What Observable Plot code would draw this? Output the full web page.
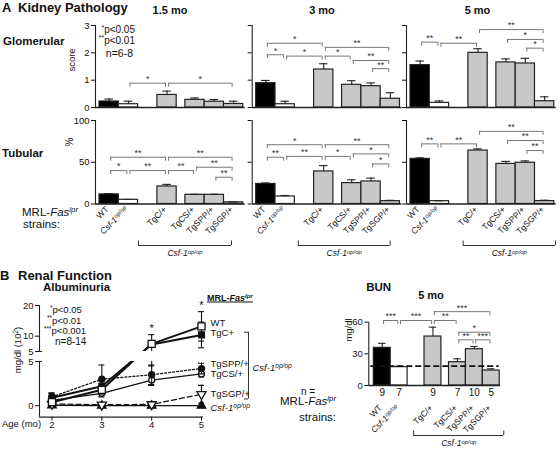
<!DOCTYPE html>
<html><head><meta charset="utf-8">
<script src="https://cdn.jsdelivr.net/npm/d3@7"></script>
<script src="https://cdn.jsdelivr.net/npm/@observablehq/plot@0.6"></script>
<style>
body{margin:0;background:#fff}
#fig{position:relative;width:560px;height:449px;overflow:hidden;font-family:"Liberation Sans",Arial,Helvetica,sans-serif;color:#111;background:#fff}
#fig svg{position:absolute;left:0;top:0}
.t{position:absolute;white-space:nowrap;line-height:1}
.t sup{font-size:68%;vertical-align:baseline;position:relative;top:-0.5em}
</style></head><body><div id="fig"></div>
<script>
// ---------------- DATA ----------------
const strains = ["WT", "Csf-1^op/op", "TgC/+", "TgCS/+", "TgSPP/+", "TgSGP/+"];

// Glomerular score (0-3)
const glom15 = [0.22, 0.12, 0.46, 0.28, 0.21, 0.13];
const glom15Err = [0.09, 0.11, 0.14, 0.07, 0.08, 0.10];
const glom3 = [0.89, 0.12, 1.39, 0.83, 0.78, 0.32];
const glom3Err = [0.10, 0.11, 0.21, 0.15, 0.12, 0.22];
const glom5 = [1.55, 0.17, 2.00, 1.65, 1.61, 0.23];
const glom5Err = [0.15, 0.07, 0.15, 0.13, 0.19, 0.16];

// Tubular (%)
const tub15 = [11.5, 5, 21, 11, 11, 2];
const tub15Err = [1, 0.5, 2.5, 0.6, 0.6, 0.5];
const tub3 = [24, 9, 39, 25, 27, 3.4];
const tub3Err = [1.2, 1.2, 7, 4, 4, 1];
const tub5 = [54, 3.4, 64, 48, 49.4, 3.5];
const tub5Err = [1.3, 0.5, 2, 3, 2.2, 1];

// significance brackets: [fromIndex, toIndex, label, level]
const sigGlom15 = [[1, 2, "*", 0.89], [2, 5, "*", 0.89]];
const sigGlom3 = [[0, 2, "*", 2.35], [2, 5, "**", 2.2], [0, 1, "*", 1.93], [1, 2, "*", 1.88], [2, 3, "*", 1.88], [3, 5, "**", 1.72], [4, 5, "**", 1.42]];
const sigGlom5 = [[0, 1, "**", 2.39], [1, 2, "**", 2.35], [2, 5, "**", 2.85], [3, 5, "*", 2.49], [4, 5, "*", 2.17]];
const sigTub15 = [[0, 2, "**", 56], [2, 5, "**", 56], [0, 1, "*", 40], [1, 2, "**", 40], [2, 3, "**", 40], [3, 5, "**", 44], [4, 5, "**", 32]];
const sigTub3 = [[0, 2, "*", 71], [2, 5, "**", 71], [0, 1, "**", 56], [1, 2, "**", 57], [2, 3, "*", 57], [3, 5, "*", 60], [4, 5, "*", 48]];
const sigTub5 = [[0, 1, "**", 72], [1, 2, "**", 72], [2, 5, "**", 87], [3, 5, "**", 76], [4, 5, "**", 64]];

// Albuminuria (mg/dl x10^2)
const ages = [2, 3, 4, 5];
const albWT = [0.4, 1.8, 7.5, 13.2];
const albWTErr = [0.3, 0.5, 3.0, 4.8];
const albTgC = [0.9, 2.2, 7.3, 10.4];
const albTgCErr = [0.5, 0.6, 0.8, 4.2];
const albTgSPP = [1.0, 3.0, 3.5, 4.2];
const albTgSPPErr = [0.45, 1.6, 1.1, 0.6];
const albTgCS = [0.6, 1.4, 2.9, 3.6];
const albTgCSErr = [0.4, 0.4, 0.6, 0.35];
const albTgSGP = [0.2, 0.1, 0.15, 1.3];
const albTgSGPErr = [0.2, 0.1, 0.1, 1.0];
const albCsf = [0.05, 0.0, 0.0, 0.0];
const albCsfErr = [0.05, 0, 0, 0];
const albStars = [[4, "*"], [5, "*"]];

// BUN (mg/dl) at 5 mo
const bun = [35.7, 17.4, 46.4, 22.1, 34.4, 14.2];
const bunErr = [4.3, 0.9, 8.9, 3.2, 2.6, 1.6];
const bunN = [9, 7, 9, 7, 10, 5];
const bunRef = 18.3;
const sigBun = [[0, 1, "***", 61.6], [1, 2, "***", 61.6], [2, 3, "**", 61.6], [2, 5, "***", 70], [3, 5, "*", 50.5], [3, 4, "**", 43.3], [4, 5, "***", 43.3]];

// ---------------- LAYOUT / STYLE ----------------
const W = 560, H = 449;
const FONT = '"Liberation Sans", Arial, Helvetica, sans-serif';
const fig = document.getElementById("fig");
const barFill = ["#000000", "#ffffff", "#c8c8c8", "#c8c8c8", "#c8c8c8", "#c8c8c8"];
const groupGap = [0, 0, 1, 0.45, 0, 0];
const slot = [];
groupGap.reduce((s, g, i) => { const v = i === 0 ? 0 : s + 1 + g; slot.push(v); return v; }, 0);

const NS = "http://www.w3.org/2000/svg";
function supify(svg) {
  svg.querySelectorAll("text").forEach(t => {
    if (t.querySelector("tspan")) return;
    const s = t.textContent;
    if (!s.includes("^")) return;
    const [base, sup] = s.split("^");
    t.textContent = "";
    const a = document.createElementNS(NS, "tspan");
    a.textContent = base; a.setAttribute("font-style", "italic");
    const b = document.createElementNS(NS, "tspan");
    b.textContent = sup; b.setAttribute("font-style", "italic");
    b.setAttribute("font-size", "70%"); b.setAttribute("dy", "-0.45em");
    t.append(a, b);
  });
  return svg;
}

function barPanel(o) {
  const k = o.ymax / (o.bottom - o.top);
  const right = o.left + (o.xmax - o.xmin) * o.unit;
  const rows = strains.map((s, i) => ({s, x: slot[i], v: o.vals[i], e: o.errs[i], fill: barFill[i], n: o.n ? String(o.n[i]) : ""}));
  const br = o.sigs.map(([a, b, lab, h]) => ({x1: slot[a] + 0.08, x2: slot[b] - 0.08, h, lab}));
  const ends = br.flatMap(d => [{x: d.x1, h: d.h}, {x: d.x2, h: d.h}]);
  const marks = [
    Plot.rectY(rows, {x1: d => d.x - 0.5, x2: d => d.x + 0.5, y1: 0, y2: "v", fill: "fill", stroke: "#222", strokeWidth: 1.2}),
    Plot.ruleX(rows, {x: "x", y1: "v", y2: d => d.v + d.e, stroke: "#222", strokeWidth: 1.1}),
    Plot.ruleY(rows, {x1: d => d.x - 0.22, x2: d => d.x + 0.22, y: d => d.v + d.e, stroke: "#222", strokeWidth: 1.1})
  ];
  if (o.ref != null) marks.push(Plot.ruleY([o.ref], {x1: -0.68, x2: 6.92, stroke: "#111", strokeWidth: 1.8, strokeDasharray: "6,3"}));
  marks.push(
    Plot.ruleX([o.xmin], {y1: 0, y2: o.ymax, stroke: "#222", strokeWidth: 1.1}),
    Plot.ruleY([0], {x1: o.xmin, x2: o.xmax, stroke: "#222", strokeWidth: 1.3}),
    Plot.axisY({ticks: o.ticks, tickSize: 4, tickPadding: 2, tickFormat: o.tickLabels ? (d => String(d)) : (() => ""), label: null}),
    Plot.ruleY(br, {x1: "x1", x2: "x2", y: "h", stroke: "#777", strokeWidth: 1}),
    Plot.ruleX(ends, {x: "x", y1: "h", y2: d => d.h - 4 * k, stroke: "#777", strokeWidth: 1}),
    Plot.text(br, {x: d => (d.x1 + d.x2) / 2, y: "h", text: "lab", dy: -4, fill: "#333", fontSize: 9})
  );
  if (o.labelDy != null) marks.push(Plot.text(rows, {x: d => d.x - 0.1, y: 0, text: "s", rotate: -45, textAnchor: "end", dy: o.labelDy, fontSize: 8.5}));
  if (o.n) marks.push(Plot.text(rows, {x: "x", y: 0, dy: 7, text: "n", fontSize: 10}));
  if (o.brace) {
    const [a, b] = o.brace, yb = -o.braceDy * k, yt = yb + 4.5 * k;
    marks.push(
      Plot.ruleY([yb], {x1: a, x2: b, stroke: "#333"}),
      Plot.ruleX([a, b], {x: d => d, y1: yb, y2: yt, stroke: "#333"}),
      Plot.text(["Csf-1^op/op"], {x: (a + b) / 2, y: yb, dy: 8, fontSize: 8.5, text: d => d})
    );
  }
  const svg = Plot.plot({
    width: W, height: H,
    marginLeft: o.left, marginRight: W - right, marginTop: o.top, marginBottom: H - o.bottom,
    x: {type: "linear", domain: [o.xmin, o.xmax], axis: null},
    y: {type: "linear", domain: [0, o.ymax], label: null},
    color: {type: "identity"},
    style: {fontFamily: FONT, fontSize: "9.5px", background: "transparent", overflow: "visible", color: "#111"},
    marks
  });
  fig.append(supify(svg));
}

const A = {unit: 19.3, xmin: -0.707, xmax: 7.05};
const G = {top: 25, bottom: 107, ymax: 3, ticks: [0, 1, 2, 3]};
const T = {top: 120, bottom: 203.5, ymax: 100, ticks: [0, 50, 100], labelDy: 4, braceDy: 41.5};
barPanel({...A, ...G, left: 95, vals: glom15, errs: glom15Err, sigs: sigGlom15, tickLabels: true});
barPanel({...A, ...G, left: 251.7, vals: glom3, errs: glom3Err, sigs: sigGlom3});
barPanel({...A, ...G, left: 406, vals: glom5, errs: glom5Err, sigs: sigGlom5});
barPanel({...A, ...T, left: 95, vals: tub15, errs: tub15Err, sigs: sigTub15, tickLabels: true, brace: [1.52, 6.34]});
barPanel({...A, ...T, left: 251.7, vals: tub3, errs: tub3Err, sigs: sigTub3, brace: [1.68, 6.44]});
barPanel({...A, ...T, left: 406, vals: tub5, errs: tub5Err, sigs: sigTub5, brace: [2.23, 7.01]});
barPanel({unit: 16.9, xmin: -0.796, xmax: 7.0, left: 368.3, top: 321.7, bottom: 385, ymax: 60, ticks: [0, 30, 60], tickLabels: true,
  vals: bun, errs: bunErr, sigs: sigBun, labelDy: 21, n: bunN, brace: [1.86, 7.19], braceDy: 50, ref: bunRef});

// ---------------- ALBUMINURIA ----------------
const albSeries = [
  {name: "Csf-1^op/op", vals: albCsf, errs: albCsfErr, symbol: "triangle", fill: "#111", r: 3.2, w: 1.3, dash: null, rot: 0, ldy: 2},
  {name: "TgSGP/+", vals: albTgSGP, errs: albTgSGPErr, symbol: "triangle", fill: "#fff", r: 3.4, w: 1.3, dash: "5,3", rot: 180, ldy: 0},
  {name: "TgCS/+", vals: albTgCS, errs: albTgCSErr, symbol: "circle", fill: "#fff", r: 3, w: 1.3, dash: null, rot: 0, ldy: 0},
  {name: "TgSPP/+", vals: albTgSPP, errs: albTgSPPErr, symbol: "circle", fill: "#111", r: 3, w: 1.3, dash: "2,2", rot: 0, ldy: -5},
  {name: "TgC+", vals: albTgC, errs: albTgCErr, symbol: "square", fill: "#111", r: 3.3, w: 2, dash: null, rot: 0, ldy: -1.5},
  {name: "WT", vals: albWT, errs: albWTErr, symbol: "square", fill: "#fff", r: 4, w: 2, dash: null, rot: 0, ldy: -3}
];
const ageMin = 1.749, ageMax = 5.3, ageAxisEnd = 5.04, agePx = 49.83;
function albPlot(isUpper) {
  const eps = 1e-4;
  const yRange = [416.7, 361, 351, 305];
  const yDomain = isUpper ? [-1.3, 5 - eps, 5, 20] : [-1.3, 5, 5 + eps, 20];
  const last = ages.length - 1;
  const marks = [];
  for (const s of albSeries) {
    const rows = ages.map((a, i) => ({a, v: s.vals[i], e: s.errs[i]}));
    const er = rows.filter(d => d.e > 0);
    marks.push(
      Plot.line(rows, {x: "a", y: "v", stroke: "#111", strokeWidth: s.w, strokeDasharray: s.dash, clip: true}),
      Plot.ruleX(er, {x: "a", y1: d => d.v - d.e, y2: d => d.v + d.e, stroke: "#111", strokeWidth: 1.1, clip: true}),
      Plot.ruleY(er.flatMap(d => [{a: d.a, y: d.v - d.e}, {a: d.a, y: d.v + d.e}]), {x1: d => d.a - 0.06, x2: d => d.a + 0.06, y: "y", stroke: "#111", strokeWidth: 1.1, clip: true}),
      Plot.dot(rows, {x: "a", y: "v", symbol: s.symbol, r: s.r, fill: s.fill, stroke: "#111", strokeWidth: 1.3, rotate: s.rot, clip: true})
    );
    if (!isUpper) marks.push(Plot.text([s], {x: ages[last] + 9 / agePx, y: d => d.vals[last], dy: s.ldy, text: "name", textAnchor: "start", fontSize: 9.5}));
  }
  if (isUpper) {
    marks.push(
      Plot.ruleX([ageMin], {y1: 5, y2: 20, stroke: "#222", strokeWidth: 1.1}),
      Plot.ruleY([5], {x1: ageMin - 0.08, x2: ageMin + 0.06, stroke: "#222", strokeWidth: 1.1}),
      Plot.axisY({ticks: [5, 10, 20], tickSize: 4, tickPadding: 2, tickFormat: d => String(d), label: null}),
      Plot.text(albStars, {x: d => d[0], y: d => { const i = ages.indexOf(d[0]); return Math.max(albWT[i] + albWTErr[i], albTgC[i] + albTgCErr[i]); }, text: d => d[1], dy: -6, fontSize: 11})
    );
  } else {
    marks.push(
      Plot.ruleX([ageMin], {y1: -1.3, y2: 5, stroke: "#222", strokeWidth: 1.1}),
      Plot.ruleY([5], {x1: ageMin - 0.08, x2: ageMin + 0.06, stroke: "#222", strokeWidth: 1.1}),
      Plot.ruleY([-1.3], {x1: ageMin, x2: ageAxisEnd, stroke: "#222", strokeWidth: 1.2}),
      Plot.axisY({ticks: [0, 5], tickSize: 4, tickPadding: 2, tickFormat: d => String(d), label: null}),
      Plot.axisX({ticks: ages, tickSize: 4, tickPadding: 0, tickFormat: d => String(d), label: null}),
      Plot.ruleX([5.943], {y1: 0.76, y2: 11.3, stroke: "#333"}),
      Plot.ruleY([0.76, 11.3], {x1: 5.943 - 0.08, x2: 5.943, stroke: "#333"}),
      Plot.text(["Csf-1^op/op"], {x: 5.943 + 4 / agePx, y: 4.3, text: d => d, textAnchor: "start", fontSize: 9.5})
    );
  }
  const top = isUpper ? 296 : 361, bottom = isUpper ? 351 : 416.7;
  const right = 39 + (ageMax - ageMin) * agePx;
  const svg = Plot.plot({
    width: W, height: H,
    marginLeft: 39, marginRight: W - right, marginTop: top, marginBottom: H - bottom,
    x: {type: "linear", domain: [ageMin, ageMax], axis: null},
    y: {type: "linear", domain: yDomain, range: yRange, label: null},
    style: {fontFamily: FONT, fontSize: "9.5px", background: "transparent", overflow: "visible", color: "#111"},
    marks
  });
  fig.append(supify(svg));
}
albPlot(false);
albPlot(true);

// ---------------- TEXT ----------------
function label(html, x, y, o = {}) {
  const d = document.createElement("div");
  d.className = "t";
  d.innerHTML = html;
  const a = o.anchor || "start";
  const tx = a === "start" ? "0" : a === "middle" ? "-50%" : "-100%";
  d.style.left = x + "px";
  d.style.top = y + "px";
  d.style.fontSize = (o.size || 10) + "px";
  d.style.fontWeight = o.weight || 400;
  d.style.transform = `translate(${tx},-50%)` + (o.rotate ? ` rotate(${o.rotate}deg)` : "");
  fig.append(d);
}
const B = {weight: 700};
label("A", 2, 7, {size: 13, ...B});
label("Kidney Pathology", 18, 7, {size: 13, ...B});
label("1.5 mo", 170, 10, {size: 11, anchor: "middle", ...B});
label("3 mo", 322, 10, {size: 11, anchor: "middle", ...B});
label("5 mo", 477.5, 10, {size: 11, anchor: "middle", ...B});
label("Glomerular", 3, 41.5, {size: 11.5, ...B});
label("Tubular", 2, 154, {size: 11.5, ...B});
label("score", 72, 60, {size: 9.5, anchor: "middle", rotate: -90});
label("%", 70, 142, {size: 10, anchor: "middle", rotate: -90});
label("<sup>*</sup>p&lt;0.05", 135, 30, {size: 10, anchor: "end"});
label("<sup>**</sup>p&lt;0.01", 135, 40.7, {size: 10, anchor: "end"});
label("n=6-8", 133, 53, {size: 10.5, anchor: "end"});
label("MRL-<i>Fas<sup>lpr</sup></i>", 22, 212.7, {size: 11.5});
label("strains:", 23, 225, {size: 11.5});
label("B", 0, 275, {size: 13, ...B});
label("Renal Function", 18, 275, {size: 13, ...B});
label("Albuminuria", 76.5, 288.3, {size: 11.5, anchor: "middle", ...B});
label("<u>MRL-<i>Fas<sup>lpr</sup></i></u>", 230, 298.3, {size: 9, anchor: "middle", ...B});
label("<sup>*</sup>p&lt;0.05", 50, 310, {size: 9.5});
label("<sup>**</sup>p&lt;0.01", 47, 320.5, {size: 9.5});
label("<sup>***</sup>p&lt;0.001", 44, 331, {size: 9.5});
label("n=8-14", 55, 342, {size: 10});
label("mg/dl (10<sup>2</sup>)", 18, 350, {size: 9.5, anchor: "middle", rotate: -90});
label("Age (mo)", 2, 424, {size: 9.5});
label("BUN", 378.7, 288, {size: 11.5, anchor: "middle", ...B});
label("5 mo", 431, 295, {size: 11, anchor: "middle", ...B});
label("mg/dl", 349, 330, {size: 9.5, anchor: "middle", rotate: -90});
label("n =", 301, 391.7, {size: 10});
label("MRL-<i>Fas<sup>lpr</sup></i>", 280, 401.7, {size: 11.5});
label("strains:", 299, 418.3, {size: 11.5});
</script></body></html>
